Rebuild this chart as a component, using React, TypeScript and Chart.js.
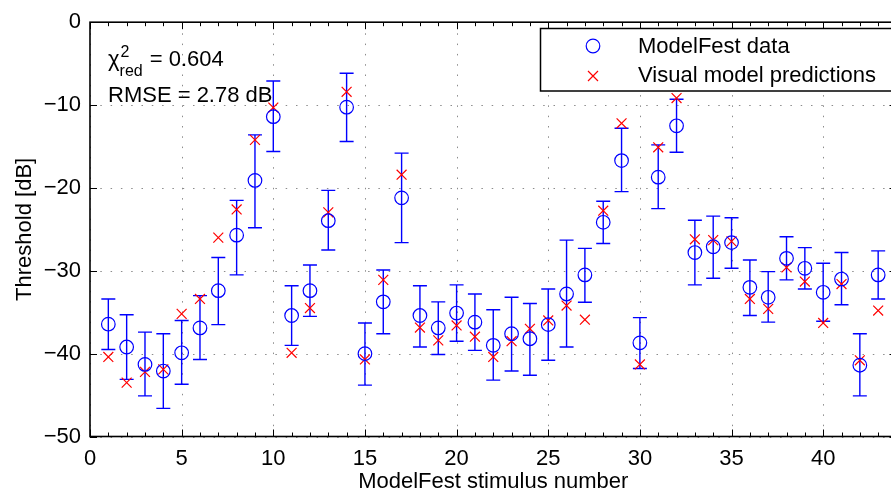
import React, { useEffect, useRef } from "react";
import { Chart, registerables } from "chart.js";

Chart.register(...registerables);

// ---------- data ----------
const stimulus = [
  1, 2, 3, 4, 5, 6, 7, 8, 9, 10, 11, 12, 13, 14, 15, 16, 17, 18, 19, 20, 21, 22,
  23, 24, 25, 26, 27, 28, 29, 30, 31, 32, 33, 34, 35, 36, 37, 38, 39, 40, 41, 42, 43,
];
const measured = [
  -36.45, -39.2, -41.3, -42.1, -39.9, -36.9, -32.4, -25.7, -19.1, -11.4, -35.4,
  -32.4, -23.95, -10.26, -40.0, -33.75, -21.2, -35.4, -36.9, -35.1, -36.2, -39.0,
  -37.6, -38.2, -36.5, -32.8, -30.5, -24.15, -16.7, -38.7, -18.7, -12.5, -27.8,
  -27.1, -26.6, -32.0, -33.2, -28.5, -29.7, -32.6, -31.0, -41.4, -30.5,
];
const errUpper = [
  -33.4, -35.3, -37.4, -37.6, -36.0, -33.0, -28.4, -21.5, -13.6, -7.1, -31.8,
  -29.3, -20.3, -6.17, -36.3, -29.9, -15.8, -31.8, -33.75, -31.7, -32.8, -34.7,
  -33.2, -33.95, -32.2, -26.3, -27.3, -21.6, -12.8, -35.65, -14.8, -9.3, -23.9,
  -23.4, -23.6, -28.7, -30.1, -25.9, -27.2, -29.1, -27.8, -37.6, -27.6,
];
const errLower = [
  -39.5, -43.1, -45.1, -46.6, -43.7, -40.7, -36.5, -30.5, -24.8, -15.6, -39.0,
  -35.5, -27.5, -14.4, -43.8, -37.6, -26.6, -39.2, -40.1, -38.5, -39.6, -43.2,
  -42.1, -42.6, -40.8, -39.2, -33.8, -26.7, -20.45, -41.8, -22.5, -15.7, -31.7,
  -30.9, -29.7, -35.4, -36.2, -31.1, -32.2, -36.1, -34.1, -45.1, -33.4,
];
const predicted = [
  -40.4, -43.5, -42.2, -41.9, -35.2, -33.4, -26.0, -22.6, -14.2, -10.3, -39.9,
  -34.5, -22.95, -8.4, -40.7, -31.1, -18.4, -36.85, -38.4, -36.6, -37.95, -40.4,
  -38.5, -37.0, -36.0, -34.2, -35.9, -22.75, -12.2, -41.3, -15.1, -9.15, -26.2,
  -26.3, -26.45, -33.4, -34.6, -29.6, -31.3, -36.3, -31.6, -40.8, -34.8,
];
const xMajorTicks = [0, 5, 10, 15, 20, 25, 30, 35, 40];
const yMajorTicks = [0, -10, -20, -30, -40, -50];
const legendLabels = ["ModelFest data", "Visual model predictions"];
const annotationChi = "0.604";
const annotationRmse = "RMSE = 2.78 dB";

// ---------- layout / style ----------
const FONT = "'Liberation Sans', Arial, Helvetica, sans-serif";
const CANVAS_W = 905;
const CANVAS_H = 495;
const X_MIN = 0;
const X_MAX = 44;
const Y_MIN = -50;
const Y_MAX = 0;
const BLUE = "#0000ff";
const RED = "#ff0000";

const minus = (v: number) => (v < 0 ? "\u2212" + Math.abs(v) : String(v));

const framePlugin = {
  id: "frame",
  beforeDatasetsDraw(chart: any) {
    const { ctx, chartArea: a, scales } = chart;
    const xs = scales.x;
    const ys = scales.y;
    ctx.save();
    // dotted grid
    ctx.strokeStyle = "#8c8c8c";
    ctx.lineWidth = 1;
    ctx.setLineDash([1.5, 8.8]);
    for (const t of xMajorTicks) {
      const px = Math.round(xs.getPixelForValue(t)) + 0.5;
      ctx.beginPath();
      ctx.moveTo(px, a.bottom);
      ctx.lineTo(px, a.top);
      ctx.stroke();
    }
    for (const t of yMajorTicks) {
      const py = Math.round(ys.getPixelForValue(t)) + 0.5;
      ctx.beginPath();
      ctx.moveTo(a.left, py);
      ctx.lineTo(a.right, py);
      ctx.stroke();
    }
    ctx.setLineDash([]);
    // error bars
    ctx.strokeStyle = BLUE;
    ctx.lineWidth = 1.4;
    for (let i = 0; i < stimulus.length; i++) {
      const px = xs.getPixelForValue(stimulus[i]);
      const pt = ys.getPixelForValue(errUpper[i]);
      const pb = ys.getPixelForValue(errLower[i]);
      ctx.beginPath();
      ctx.moveTo(px, pt);
      ctx.lineTo(px, pb);
      ctx.moveTo(px - 7, pt);
      ctx.lineTo(px + 7, pt);
      ctx.moveTo(px - 7, pb);
      ctx.lineTo(px + 7, pb);
      ctx.stroke();
    }
    ctx.restore();
  },
  afterDatasetsDraw(chart: any) {
    const { ctx, chartArea: a, scales } = chart;
    const xs = scales.x;
    const ys = scales.y;
    ctx.save();
    ctx.strokeStyle = "#000";
    ctx.lineWidth = 1;
    // ticks
    for (let v = X_MIN; v <= X_MAX; v++) {
      const len = v % 5 === 0 ? 7 : 4;
      const px = Math.round(xs.getPixelForValue(v)) + 0.5;
      ctx.beginPath();
      ctx.moveTo(px, a.bottom);
      ctx.lineTo(px, a.bottom - len);
      ctx.moveTo(px, a.top);
      ctx.lineTo(px, a.top + len);
      ctx.stroke();
    }
    for (const t of yMajorTicks) {
      const py = Math.round(ys.getPixelForValue(t)) + 0.5;
      ctx.beginPath();
      ctx.moveTo(a.left, py);
      ctx.lineTo(a.left + 7, py);
      ctx.moveTo(a.right, py);
      ctx.lineTo(a.right - 7, py);
      ctx.stroke();
    }
    // box
    ctx.lineWidth = 1.6;
    ctx.strokeRect(a.left, a.top, a.right - a.left, a.bottom - a.top);
    ctx.restore();
  },
  afterDraw(chart: any) {
    const { ctx } = chart;
    ctx.save();
    // legend
    const lx = 540.5;
    const ly = 28.5;
    ctx.fillStyle = "#fff";
    ctx.fillRect(lx, ly, 400, 62.5);
    ctx.strokeStyle = "#000";
    ctx.lineWidth = 1.5;
    ctx.strokeRect(lx, ly, 400, 62.5);
    ctx.strokeStyle = BLUE;
    ctx.lineWidth = 1.2;
    ctx.beginPath();
    ctx.arc(593, 46, 6.8, 0, Math.PI * 2);
    ctx.stroke();
    ctx.strokeStyle = RED;
    ctx.beginPath();
    ctx.moveTo(588, 71);
    ctx.lineTo(598, 81);
    ctx.moveTo(598, 71);
    ctx.lineTo(588, 81);
    ctx.stroke();
    ctx.fillStyle = "#000";
    ctx.font = `22px ${FONT}`;
    ctx.textBaseline = "middle";
    ctx.textAlign = "left";
    ctx.fillText(legendLabels[0], 638, 47);
    ctx.fillText(legendLabels[1], 638, 76);
    // annotation
    ctx.textBaseline = "alphabetic";
    ctx.font = `22px ${FONT}`;
    ctx.fillText("\u03c7", 108, 66);
    const chiW = ctx.measureText("\u03c7").width;
    ctx.font = `16px ${FONT}`;
    ctx.fillText("2", 108 + chiW + 1, 57);
    ctx.fillText("red", 108 + chiW, 76);
    const redW = ctx.measureText("red").width;
    ctx.font = `22px ${FONT}`;
    ctx.fillText(" = " + annotationChi, 108 + chiW + redW + 1, 66);
    ctx.fillText(annotationRmse, 108, 101.5);
    ctx.restore();
  },
};

export default function App() {
  const ref = useRef<HTMLCanvasElement>(null);
  useEffect(() => {
    if (!ref.current) return;
    const chart = new Chart(ref.current, {
      type: "scatter",
      data: {
        datasets: [
          {
            label: legendLabels[0],
            data: stimulus.map((x, i) => ({ x, y: measured[i] })),
            pointStyle: "circle",
            pointRadius: 6.8,
            pointBorderWidth: 1.2,
            pointBorderColor: BLUE,
            pointBackgroundColor: "rgba(0,0,0,0)",
            showLine: false,
          },
          {
            label: legendLabels[1],
            data: stimulus.map((x, i) => ({ x, y: predicted[i] })),
            pointStyle: "crossRot",
            pointRadius: 7,
            pointBorderWidth: 1.2,
            pointBorderColor: RED,
            pointBackgroundColor: RED,
            showLine: false,
          },
        ],
      },
      options: {
        responsive: false,
        animation: false,
        devicePixelRatio: 1,
        layout: { padding: { left: 0, top: 16.5, right: CANVAS_W - 896.5, bottom: 0 } },
        plugins: { legend: { display: false }, tooltip: { enabled: false } },
        scales: {
          x: {
            type: "linear",
            min: X_MIN,
            max: X_MAX,
            grid: { display: false, drawTicks: false },
            border: { display: false },
            ticks: {
              stepSize: 5,
              includeBounds: false,
              padding: 9,
              color: "#000",
              font: { family: FONT, size: 22 },
              callback: (v: any) => (Number(v) % 5 === 0 && Number(v) <= 40 ? minus(Number(v)) : null),
            },
            title: {
              display: true,
              text: "ModelFest stimulus number",
              color: "#000",
              font: { family: FONT, size: 22 },
              padding: { top: 0, bottom: 0 },
            },
            afterFit: (s: any) => {
              s.height = 58.5;
            },
          },
          y: {
            type: "linear",
            min: Y_MIN,
            max: Y_MAX,
            grid: { display: false, drawTicks: false },
            border: { display: false },
            ticks: {
              stepSize: 10,
              padding: 9,
              color: "#000",
              font: { family: FONT, size: 22 },
              callback: (v: any) => minus(Number(v)),
            },
            title: {
              display: true,
              text: "Threshold [dB]",
              color: "#000",
              font: { family: FONT, size: 22 },
              padding: { top: 12, bottom: 0 },
            },
            afterFit: (s: any) => {
              s.width = 90;
            },
          },
        },
      },
      plugins: [framePlugin],
    });
    return () => chart.destroy();
  }, []);
  return (
    <div
      style={{
        position: "absolute",
        left: 0,
        top: 0,
        width: 891,
        height: 495,
        overflow: "hidden",
        background: "#fff",
      }}
    >
      <canvas ref={ref} width={CANVAS_W} height={CANVAS_H} style={{ display: "block" }} />
    </div>
  );
}
